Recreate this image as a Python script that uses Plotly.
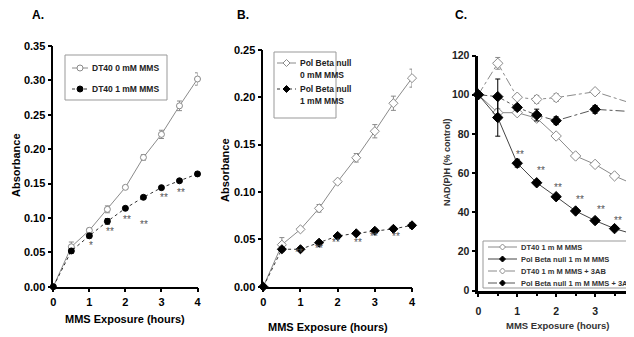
import plotly.graph_objects as go

# ---------------- data ----------------
hours = [0, 0.5, 1, 1.5, 2, 2.5, 3, 3.5, 4]

# Panel A
dt40_0mm = [0, 0.058, 0.082, 0.1125, 0.1445, 0.188, 0.2215, 0.263, 0.302]
dt40_0mm_err = [0, 0.007, 0.003, 0.005, 0.002, 0.004, 0.006, 0.007, 0.009]
dt40_1mm = [0, 0.052, 0.074, 0.095, 0.114, 0.130, 0.144, 0.154, 0.164]
dt40_1mm_err = [0, 0.003, 0.003, 0.004, 0.002, 0.002, 0.002, 0.002, 0.003]
a_star_x = [1.05, 1.58, 2.05, 2.52, 3.08, 3.55, 4.18]
a_star_y = [0.060, 0.081, 0.097, 0.091, 0.129, 0.137, 0.153]
a_star_txt = ["*", "**", "**", "**", "**", "**", "**"]

# Panel B
pb_0mm = [0, 0.0443, 0.0605, 0.0827, 0.1108, 0.136, 0.164, 0.1935, 0.220]
pb_0mm_err = [0, 0.0075, 0.002, 0.004, 0.002, 0.0045, 0.007, 0.0075, 0.0095]
pb_1mm = [0, 0.0395, 0.0395, 0.0464, 0.0535, 0.0563, 0.059, 0.061, 0.0647]
pb_1mm_err = [0, 0.002, 0.002, 0.002, 0.002, 0.002, 0.002, 0.002, 0.003]
b_star_x = [0.95, 1.5, 1.95, 2.54, 2.98, 3.56, 4.02]
b_star_y = [0.036, 0.040, 0.047, 0.047, 0.0527, 0.0527, 0.0588]
b_star_txt = ["**"] * 7

# Panel C
c_dt40 = [100, 90.8, 90.8, 88.0, 78.9, 68.7, 64.4, 58.5, 54.2]
c_dt40_err = [0, 2, 1, 1.5, 1, 1, 1, 1, 1]
c_pb = [100, 88.3, 65.0, 55.0, 47.9, 40.6, 35.7, 31.6, 28.7]
c_pb_err = [0, 9.5, 2, 1, 1, 1, 1, 1, 1]
hours_3ab = [0, 0.5, 1, 1.5, 2, 3, 4]
c_dt40_3ab = [100, 116.0, 98.7, 97.6, 98.5, 101.5, 95.2]
c_dt40_3ab_err = [0, 3, 1, 2, 2, 1, 1]
c_pb_3ab = [100, 99.0, 93.5, 89.6, 86.7, 92.5, 91.3]
c_pb_3ab_err = [0, 9, 1.5, 3, 2, 2, 2]
c_star_x = [1.07, 1.62, 2.05, 2.6, 3.15, 3.6]
c_star_y = [69.5, 61.5, 52.7, 46.7, 41.5, 36.0]
c_star_txt = ["**"] * 6

# ---------------- style ----------------
FONT = "Liberation Sans, Arial, sans-serif"
GRAY = "#8a8a8a"
DARK = "#333333"
OFF = 8                     # page body margin
W, H = 634 - OFF, 337 - OFF


def px(x):
    return (x - OFF) / W


def py(y):
    return 1 - (y - OFF) / H


fig = go.Figure()


def add_series(x, y, err, name, xa, ya, filled, dash, symbol, lcolor, msize):
    fig.add_trace(go.Scatter(
        x=x, y=y, name=name, xaxis=xa, yaxis=ya, showlegend=False,
        mode="lines+markers", cliponaxis=False,
        line=dict(color=lcolor, width=1, dash=dash),
        marker=dict(symbol=symbol, size=msize,
                    color="black" if filled else "white",
                    line=dict(color="black" if filled else GRAY, width=1)),
        error_y=dict(type="data", array=err, visible=True,
                     color="black" if filled else GRAY, thickness=1, width=2.5),
    ))


# Panel A
add_series(hours, dt40_0mm, dt40_0mm_err, "DT40 0 mM MMS", "x", "y",
           False, "solid", "circle", GRAY, 6)
add_series(hours, dt40_1mm, dt40_1mm_err, "DT40 1 mM MMS", "x", "y",
           True, "dot", "circle", DARK, 6)
# Panel B
add_series(hours, pb_0mm, pb_0mm_err, "Pol Beta null 0 mM MMS", "x2", "y2",
           False, "solid", "diamond", GRAY, 7)
add_series(hours, pb_1mm, pb_1mm_err, "Pol Beta null 1 mM MMS", "x2", "y2",
           True, "dot", "diamond", DARK, 7)
# Panel C
add_series(hours, c_dt40, c_dt40_err, "DT40 1 m M MMS", "x3", "y3",
           False, "solid", "diamond", GRAY, 8)
add_series(hours, c_pb, c_pb_err, "Pol Beta null 1 m M MMS", "x3", "y3",
           True, "solid", "diamond", "#444444", 8)
add_series(hours_3ab, c_dt40_3ab, c_dt40_3ab_err, "DT40 1 m M MMS + 3AB", "x3", "y3",
           False, "dashdot", "diamond", GRAY, 8)
add_series(hours_3ab, c_pb_3ab, c_pb_3ab_err, "Pol Beta null 1 m M MMS + 3AB", "x3", "y3",
           True, "dashdot", "diamond", "#555555", 8)

axis_common = dict(showgrid=False, zeroline=False, showline=True, linecolor="black",
                   ticks="outside", tickcolor="black", ticklen=4, automargin=False,
                   tickfont=dict(family=FONT, size=11, color="black", weight="bold"))

fig.update_layout(
    width=W, height=H, autosize=False,
    margin=dict(l=0, r=0, t=0, b=0, pad=0),
    paper_bgcolor="white", plot_bgcolor="white",
    font=dict(family=FONT, color="black"),
    showlegend=False,
    xaxis=dict(axis_common, domain=[px(53.3), px(197.5)], range=[0, 4], tickvals=[0, 1, 2, 3, 4],
               anchor="y", linewidth=1.5, tickwidth=1.5),
    yaxis=dict(axis_common, domain=[py(286.7), py(46)], range=[0, 0.35], dtick=0.05,
               tickformat=".2f", anchor="x", linewidth=1.5, tickwidth=1.5),
    xaxis2=dict(axis_common, domain=[px(263.3), px(412)], range=[0, 4], tickvals=[0, 1, 2, 3, 4],
                anchor="y2", linewidth=1.5, tickwidth=1.5),
    yaxis2=dict(axis_common, domain=[py(286.7), py(49.7)], range=[0, 0.25], dtick=0.05,
                tickformat=".2f", anchor="x2", linewidth=1.5, tickwidth=1.5),
    xaxis3=dict(axis_common, domain=[px(478.3), 1.0], range=[0, 4.0], tickvals=[0, 1, 2, 3, 4],
                anchor="y3", linewidth=2.5, tickwidth=2, ticklabelstandoff=5,
                minor=dict(tickvals=[0.5, 1.5, 2.5, 3.5], ticks="outside", ticklen=3,
                           tickcolor="black", tickwidth=1.5),
                tickfont=dict(family=FONT, size=10.5, color="#222", weight="bold")),
    yaxis3=dict(axis_common, domain=[py(290.5), py(55.5)], range=[0, 120], dtick=20,
                anchor="x3", linewidth=2.5, tickwidth=2,
                tickfont=dict(family=FONT, size=10.5, color="#222", weight="bold")),
)

ann = []
shapes = []


def paper_text(text, x, y, size, color="black", angle=0, xanchor="center"):
    ann.append(dict(text=text, x=px(x), y=py(y), xref="paper", yref="paper",
                    xanchor=xanchor, yanchor="middle", textangle=angle, showarrow=False,
                    align="left",
                    font=dict(family=FONT, size=size, color=color, weight="bold")))


# panel letters
for t, x in [("A.", 30), ("B.", 235), ("C.", 453)]:
    paper_text(t, x, 15, 12, xanchor="left")
# axis titles
paper_text("MMS Exposure (hours)", 125, 319, 11)
paper_text("MMS Exposure (hours)", 328, 327, 11)
paper_text("MMS Exposure (hours)", 557, 325, 9.5, "#333")
paper_text("Absorbance", 16, 165, 11, angle=-90)
paper_text("Absorbance", 225, 170, 11, angle=-90)
paper_text("NAD(P)H (% control)", 447, 162, 9, "#333", angle=-90)

# significance stars
for xs, ys, ts, xr, yr in [(a_star_x, a_star_y, a_star_txt, "x", "y"),
                           (b_star_x, b_star_y, b_star_txt, "x2", "y2"),
                           (c_star_x, c_star_y, c_star_txt, "x3", "y3")]:
    for xv, yv, tv in zip(xs, ys, ts):
        ann.append(dict(text=tv, x=xv, y=yv, xref=xr, yref=yr, showarrow=False,
                        xanchor="center", yanchor="middle",
                        font=dict(family=FONT, size=10, color="#555555")))


# ---------------- manual legends ----------------
def legend_box(x0, y0, x1, y1):
    shapes.append(dict(type="rect", xref="paper", yref="paper",
                       x0=px(x0), x1=px(x1), y0=py(y1), y1=py(y0),
                       line=dict(color="#999999", width=1), fillcolor="white", layer="above"))


def legend_entry(xl0, xl1, y, text, filled, dash, symbol, lcolor, fsize, tcolor, msize):
    shapes.append(dict(type="line", xref="paper", yref="paper",
                       x0=px(xl0), x1=px(xl1), y0=py(y), y1=py(y),
                       line=dict(color=lcolor, width=1, dash=dash), layer="above"))
    xm = px((xl0 + xl1) / 2)
    r = msize / 2
    if symbol == "circle":
        shp = dict(type="circle", x0=-r, x1=r, y0=-r, y1=r)
    else:
        shp = dict(type="path", path=f"M {-r} 0 L 0 {r} L {r} 0 L 0 {-r} Z")
    shp.update(dict(xref="paper", yref="paper", xsizemode="pixel", ysizemode="pixel",
                    xanchor=xm, yanchor=py(y), layer="above",
                    fillcolor="black" if filled else "white",
                    line=dict(color="black" if filled else GRAY, width=1)))
    shapes.append(shp)
    paper_text(text, xl1 + 2, y, fsize, tcolor, xanchor="left")


# legend A
legend_box(65, 55, 167, 100)
legend_entry(72, 88, 68, "DT40 0 mM MMS", False, "solid", "circle", GRAY, 8.5, "#222", 6)
legend_entry(72, 88, 89, "DT40 1 mM MMS", True, "dot", "circle", DARK, 8.5, "#222", 6)
# legend B
legend_box(274, 52, 336, 118)
legend_entry(277, 296, 63, "Pol Beta null", False, "solid", "diamond", GRAY, 8.5, "#222", 7)
paper_text("0 mM MMS", 298, 75, 8.5, "#222", xanchor="left")
legend_entry(277, 296, 89, "Pol Beta null", True, "dot", "diamond", DARK, 8.5, "#222", 7)
paper_text("1 mM MMS", 298, 101, 8.5, "#222", xanchor="left")
# legend C
legend_box(483, 241, 640, 288)
legend_entry(488, 517, 247, "DT40 1 m M MMS", False, "solid", "diamond", GRAY, 7.5, "#333", 6)
legend_entry(488, 517, 259, "Pol Beta null 1 m M MMS", True, "solid", "diamond", "#444444", 7.5, "#333", 6)
legend_entry(488, 517, 271, "DT40 1 m M MMS + 3AB", False, "dash", "diamond", GRAY, 7.5, "#333", 6)
legend_entry(488, 517, 283, "Pol Beta null 1 m M MMS + 3AB", True, "dashdot", "diamond", "#555555", 7.5, "#333", 6)

fig.update_layout(annotations=ann, shapes=shapes)

fig.write_html("out.html")
